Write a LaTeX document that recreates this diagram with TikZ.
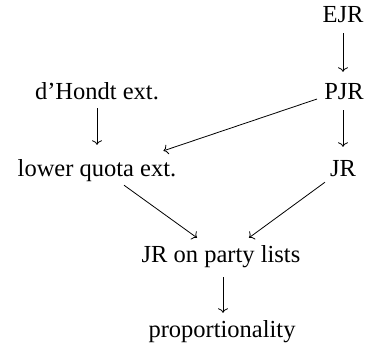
\documentclass[tikz,border=0pt]{standalone}
\usepackage{fontspec}
\setmainfont{Liberation Serif}
\usetikzlibrary{arrows.meta}
\begin{document}
\begin{tikzpicture}[x=1pt,y=-1pt,
  lbl/.style={anchor=base, inner sep=0pt, text height=15pt, text depth=5pt,
    font=\fontsize{24.5}{29}\selectfont},
  arr/.style={line width=0.8pt, -{Computer Modern Rightarrow[length=4.5pt,width=10pt]}}]
\useasboundingbox (0,0) rectangle (365,350);
\node[lbl] (ejr) at (343,23) {EJR};
\node[lbl] (pjr) at (344,100) {PJR};
\node[lbl] (dh) at (97,100) {d’Hondt ext.};
\node[lbl] (lq) at (97,177) {lower quota ext.};
\node[lbl] (jr) at (343,177) {JR};
\node[lbl] (pl) at (221,263) {JR on party lists};
\node[lbl] (pr) at (222,338) {proportionality};
\draw[arr, shorten <=5pt, shorten >=13pt] (ejr.south) -- (pjr.north -| ejr.south);
\draw[arr, shorten <=3pt, shorten >=17pt] (dh.south) -- (lq.north);
\draw[arr, shorten <=5pt, shorten >=15pt] (pjr.south -| jr.north) -- (jr.north);
\draw[arr, shorten <=9pt, shorten >=10pt] (pl.south -| 223,0) -- (pr.north -| 223,0);
\draw[arr] ([xshift=-7pt,yshift=-4pt]pjr.west) -- ([xshift=-13pt,yshift=11pt]lq.north east);
\draw[arr] ([xshift=27pt,yshift=-3pt]lq.south) -- ([xshift=-24pt,yshift=10pt]pl.north);
\draw[arr] ([xshift=-18pt]jr.south) -- ([xshift=28pt,yshift=10pt]pl.north);
\end{tikzpicture}
\end{document}
